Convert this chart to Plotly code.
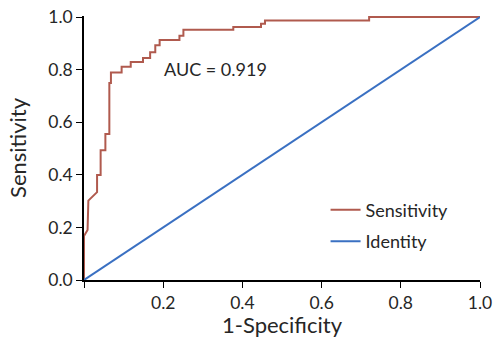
import plotly.graph_objects as go

# ROC curve points
fpr = [0, 0, 0.009, 0.011, 0.033, 0.033, 0.042, 0.042, 0.054, 0.054, 0.064, 0.064,
       0.068, 0.068, 0.095, 0.095, 0.118, 0.118, 0.149, 0.149, 0.167, 0.167,
       0.180, 0.180, 0.191, 0.191, 0.241, 0.241, 0.251, 0.251, 0.377, 0.377,
       0.447, 0.447, 0.457, 0.457, 0.720, 0.720, 1.0]
sens = [0, 0.167, 0.19, 0.302, 0.334, 0.399, 0.399, 0.493, 0.493, 0.555, 0.555, 0.749,
        0.749, 0.789, 0.789, 0.811, 0.811, 0.829, 0.829, 0.844, 0.844, 0.866,
        0.866, 0.893, 0.893, 0.913, 0.913, 0.929, 0.929, 0.952, 0.952, 0.962,
        0.962, 0.975, 0.975, 0.987, 0.987, 1.0, 1.0]
identity_x = [0, 1]
identity_y = [0, 1]
tick_vals = [0, 0.2, 0.4, 0.6, 0.8, 1.0]
y_tick_text = ["0.0", "0.2", "0.4", "0.6", "0.8", "1.0"]
x_tick_text = ["", "0.2", "0.4", "0.6", "0.8", "1.0"]
auc_label = "AUC = 0.919"

FONT = "Lato"
FS = 18
TICK_FS = 17.5
TXT = "#262626"

fig = go.Figure()
fig.add_trace(go.Scatter(x=fpr, y=sens, mode="lines", name="Sensitivity",
                         line=dict(color="#B05A4E", width=2), legendgroup="a"))
fig.add_trace(go.Scatter(x=identity_x, y=identity_y, mode="lines", name="Identity",
                         line=dict(color="#3A70C2", width=2), legendgroup="b"))

fig.update_layout(
    width=498, height=338,
    margin=dict(l=84, r=18, t=16, b=58),
    paper_bgcolor="white", plot_bgcolor="white",
    font=dict(family=FONT, size=FS, color=TXT),
    showlegend=True,
    legend=dict(x=0.61, y=0.335, xanchor="left", yanchor="top",
                bgcolor="rgba(0,0,0,0)", traceorder="grouped", tracegroupgap=5,
                font=dict(family=FONT, size=FS, color=TXT)),
    annotations=[dict(x=0.196, y=0.803, xref="x", yref="y", text=auc_label,
                      showarrow=False, xanchor="left", yanchor="middle",
                      font=dict(family=FONT, size=FS, color=TXT))],
)
fig.update_xaxes(range=[0, 1.0], tickvals=tick_vals, ticktext=x_tick_text,
                 tickfont=dict(size=TICK_FS),
                 showgrid=False, zeroline=False, showline=True, linecolor="black",
                 linewidth=1.5, ticks="outside", ticklen=6, tickcolor="black",
                 automargin=False, title=dict(text="1-Specificity", standoff=8),
                 layer="below traces")
fig.update_yaxes(range=[0, 1.004], tickvals=tick_vals, ticktext=y_tick_text,
                 tickfont=dict(size=TICK_FS),
                 showgrid=False, zeroline=False, showline=True, linecolor="black",
                 linewidth=1.5, ticks="outside", ticklen=6, tickcolor="black",
                 automargin=False, title=dict(text="Sensitivity", standoff=16),
                 layer="below traces")

fig.write_html("out.html", config={"displayModeBar": False},
               post_script="document.body.style.margin='0px';")
